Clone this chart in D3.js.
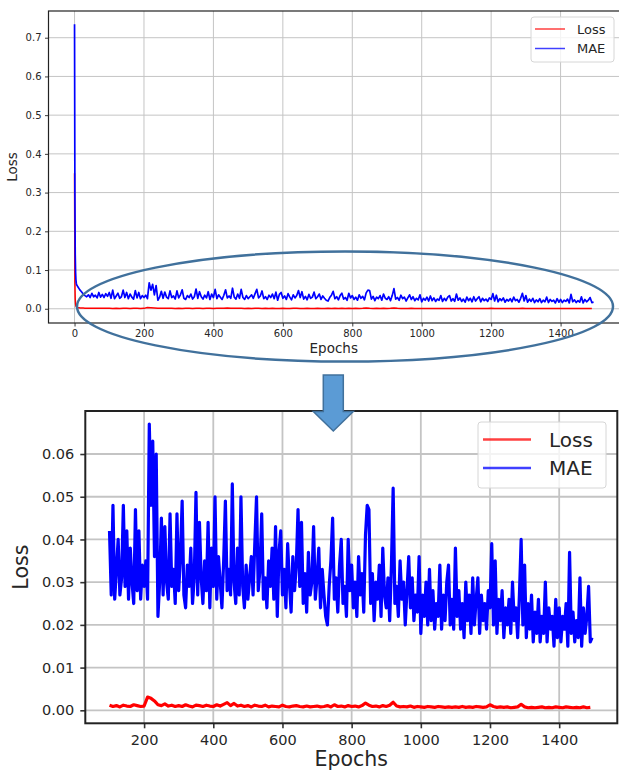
<!DOCTYPE html>
<html><head><meta charset="utf-8">
<script src="https://cdn.jsdelivr.net/npm/d3@7"></script>
<style>body{margin:0;background:#fff}svg{display:block;font-family:"DejaVu Sans",sans-serif}</style>
</head><body><svg id="c" width="619" height="771"></svg>
<script>
// ---------------- data ----------------
const seriesNames = ["Loss", "MAE"];
const seriesColors = ["#ff0000", "#0000ff"];

// first epochs (0..95), shown only in the upper (full) chart
const earlyEpochs = [0,1,2,3,4,5,6,8,10,13,16,20,25,30,35,40,45,50,55,60,65,70,75,80,85,90,95];
const earlyMae = [0.735,0.30,0.14,0.095,0.075,0.066,0.062,0.059,0.056,0.052,0.048,0.044,0.038,0.034,0.031,0.036,0.029,0.040,0.031,0.035,0.028,0.042,0.030,0.037,0.029,0.039,0.032];
const earlyLoss = [0.35,0.07,0.025,0.012,0.007,0.005,0.004,0.003,0.0028,0.0025,0.0022,0.002,0.0018,0.0016,0.0015,0.0014,0.0015,0.0013,0.0014,0.0012,0.0013,0.0012,0.0014,0.0011,0.0013,0.0012,0.0011];

// epochs 100..1495, every 5 epochs
const maeStart = 100, maeStep = 5;
const mae = [
  0.042,0.027,0.048,0.026,0.033,0.040,0.027,0.031,0.048,0.029,
  0.042,0.026,0.038,0.030,0.025,0.047,0.028,0.042,0.026,0.034,
  0.029,0.035,0.026,0.067,0.048,0.063,0.036,0.060,0.022,0.030,
  0.045,0.027,0.043,0.030,0.026,0.046,0.029,0.033,0.025,0.046,
  0.028,0.036,0.049,0.027,0.024,0.034,0.029,0.038,0.025,0.031,
  0.051,0.027,0.044,0.031,0.025,0.035,0.028,0.044,0.024,0.038,
  0.029,0.050,0.026,0.036,0.030,0.024,0.035,0.049,0.028,0.033,
  0.027,0.053,0.030,0.025,0.038,0.027,0.050,0.029,0.024,0.034,
  0.026,0.031,0.036,0.027,0.039,0.050,0.028,0.033,0.046,0.026,
  0.031,0.024,0.035,0.029,0.038,0.026,0.043,0.022,0.037,0.042,
  0.027,0.033,0.024,0.039,0.030,0.023,0.036,0.028,0.034,0.047,
  0.029,0.044,0.025,0.032,0.023,0.037,0.027,0.030,0.043,0.026,
  0.031,0.038,0.024,0.033,0.027,0.022,0.020,0.029,0.035,0.045,
  0.026,0.031,0.023,0.034,0.040,0.025,0.029,0.022,0.040,0.028,
  0.034,0.024,0.030,0.022,0.036,0.027,0.032,0.023,0.041,0.048,
  0.047,0.025,0.032,0.021,0.030,0.026,0.034,0.022,0.038,0.027,
  0.024,0.031,0.021,0.034,0.052,0.025,0.029,0.022,0.035,0.026,
  0.030,0.020,0.028,0.036,0.024,0.031,0.021,0.027,0.023,0.036,
  0.018,0.027,0.022,0.030,0.020,0.033,0.021,0.028,0.019,0.025,
  0.022,0.034,0.019,0.027,0.021,0.030,0.034,0.020,0.026,0.019,
  0.038,0.022,0.028,0.019,0.025,0.017,0.030,0.021,0.027,0.018,
  0.031,0.020,0.026,0.031,0.018,0.027,0.021,0.025,0.019,0.028,
  0.024,0.039,0.020,0.035,0.018,0.026,0.021,0.028,0.017,0.024,
  0.020,0.026,0.018,0.030,0.021,0.024,0.017,0.027,0.040,0.020,
  0.034,0.017,0.025,0.019,0.027,0.016,0.023,0.018,0.026,0.016,
  0.022,0.018,0.030,0.016,0.024,0.019,0.022,0.015,0.026,0.017,
  0.024,0.016,0.022,0.019,0.025,0.015,0.037,0.018,0.023,0.016,
  0.021,0.017,0.031,0.015,0.024,0.018,0.022,0.029,0.016,0.017
];

// epochs 100..1490, every 10 epochs
const lossStart = 100, lossStep = 10;
const loss = [
  0.0012,0.0009,0.0011,0.0008,0.0012,0.0010,0.0009,0.0013,0.0011,0.0009,
  0.0010,0.0031,0.0028,0.0022,0.0013,0.0011,0.0015,0.0010,0.0012,0.0009,
  0.0011,0.0009,0.0013,0.0010,0.0008,0.0012,0.0011,0.0009,0.0012,0.0010,
  0.0009,0.0013,0.0010,0.0014,0.0018,0.0011,0.0016,0.0010,0.0012,0.0009,
  0.0011,0.0008,0.0012,0.0010,0.0009,0.0012,0.0008,0.0010,0.0009,0.0008,
  0.0012,0.0009,0.0008,0.0010,0.0011,0.0009,0.0008,0.0010,0.0008,0.0009,
  0.0010,0.0008,0.0009,0.0011,0.0008,0.0013,0.0009,0.0010,0.0008,0.0011,
  0.0009,0.0010,0.0008,0.0011,0.0017,0.0012,0.0009,0.0010,0.0008,0.0011,
  0.0009,0.0012,0.0019,0.0010,0.0008,0.0009,0.0008,0.0010,0.0007,0.0009,
  0.0008,0.0007,0.0009,0.0008,0.0007,0.0009,0.0008,0.0007,0.0008,0.0007,
  0.0008,0.0007,0.0009,0.0007,0.0008,0.0007,0.0009,0.0008,0.0007,0.0008,
  0.0013,0.0009,0.0007,0.0008,0.0007,0.0008,0.0006,0.0007,0.0008,0.0014,
  0.0008,0.0006,0.0007,0.0006,0.0007,0.0008,0.0006,0.0007,0.0006,0.0008,
  0.0007,0.0006,0.0008,0.0007,0.0006,0.0007,0.0006,0.0008,0.0006,0.0007
];

const topXTicks = [0,200,400,600,800,1000,1200,1400];
const topYTicks = [0.0,0.1,0.2,0.3,0.4,0.5,0.6,0.7];
const botXTicks = [200,400,600,800,1000,1200,1400];
const botYTicks = [0.00,0.01,0.02,0.03,0.04,0.05,0.06];

// ---------------- build point lists ----------------
const maeMain = mae.map((v, i) => [maeStart + i * maeStep, v]);
const lossMain = loss.map((v, i) => [lossStart + i * lossStep, v]);
const maeFull = earlyEpochs.map((e, i) => [e, earlyMae[i]]).concat(maeMain);
const lossFull = earlyEpochs.map((e, i) => [e, earlyLoss[i]]).concat(lossMain);

const svg = d3.select('#c');
const defs = svg.append('defs');

function panel(cfg) {
  const g = svg.append('g');
  const x = d3.scaleLinear().domain(cfg.xDomain).range([cfg.left, cfg.right]);
  const y = d3.scaleLinear().domain(cfg.yDomain).range([cfg.bottom, cfg.top]);
  const w = cfg.right - cfg.left, h = cfg.bottom - cfg.top;
  defs.append('clipPath').attr('id', cfg.id).append('rect')
    .attr('x', cfg.left).attr('y', cfg.top).attr('width', w).attr('height', h);

  // grid
  g.append('g').selectAll('line').data(cfg.xTicks).join('line')
    .attr('x1', d => x(d)).attr('x2', d => x(d)).attr('y1', cfg.top).attr('y2', cfg.bottom)
    .attr('stroke', '#c4c4c4').attr('stroke-width', cfg.gridW);
  g.append('g').selectAll('line').data(cfg.yTicks).join('line')
    .attr('y1', d => y(d)).attr('y2', d => y(d)).attr('x1', cfg.left).attr('x2', cfg.right)
    .attr('stroke', '#c4c4c4').attr('stroke-width', cfg.gridW);

  // series
  const line = d3.line().x(d => x(d[0])).y(d => y(d[1]));
  const lg = g.append('g').attr('clip-path', `url(#${cfg.id})`);
  lg.append('path').datum(cfg.loss).attr('d', line).attr('fill', 'none')
    .attr('stroke', seriesColors[0]).attr('stroke-width', cfg.lossW).attr('stroke-linejoin', 'round');
  lg.append('path').datum(cfg.mae).attr('d', line).attr('fill', 'none')
    .attr('stroke', seriesColors[1]).attr('stroke-width', cfg.lineW).attr('stroke-linejoin', 'round');

  // axes
  const ax = g.append('g').attr('transform', `translate(0,${cfg.bottom})`)
    .call(d3.axisBottom(x).tickValues(cfg.xTicks).tickFormat(d3.format('d'))
      .tickSize(cfg.tickLen).tickPadding(cfg.tickPad));
  const ay = g.append('g').attr('transform', `translate(${cfg.left},0)`)
    .call(d3.axisLeft(y).tickValues(cfg.yTicks).tickFormat(d3.format(cfg.yFmt))
      .tickSize(cfg.tickLen).tickPadding(cfg.tickPad));
  [ax, ay].forEach(a => {
    a.select('.domain').remove();
    a.selectAll('.tick line').attr('stroke', '#333').attr('stroke-width', cfg.frameW * 0.8);
    a.selectAll('.tick text').attr('fill', '#262626').style('font-size', cfg.tickFont + 'px')
      .style('font-family', '"DejaVu Sans", sans-serif');
  });

  // frame
  g.append('rect').attr('x', cfg.left).attr('y', cfg.top).attr('width', w).attr('height', h)
    .attr('fill', 'none').attr('stroke', '#222').attr('stroke-width', cfg.frameW);

  // axis titles
  g.append('text').attr('x', (cfg.left + Math.min(cfg.right, 619)) / 2 + cfg.xlabDx).attr('y', cfg.xlabY)
    .attr('text-anchor', 'middle').attr('fill', '#262626').style('font-size', cfg.labFont + 'px').text('Epochs');
  g.append('text').attr('transform', `translate(${cfg.ylabX},${(cfg.top + cfg.bottom) / 2}) rotate(-90)`)
    .attr('text-anchor', 'middle').attr('fill', '#262626').style('font-size', cfg.labFont + 'px').text('Loss');

  // legend
  const L = cfg.legend;
  const lgd = g.append('g');
  lgd.append('rect').attr('x', L.x).attr('y', L.y).attr('width', L.w).attr('height', L.h).attr('rx', 3)
    .attr('fill', '#fff').attr('fill-opacity', 0.8).attr('stroke', '#d6d6d6').attr('stroke-width', 1);
  seriesNames.forEach((n, i) => {
    const yy = L.y + L.row0 + i * L.rowH;
    lgd.append('line').attr('x1', L.x + L.lx0).attr('x2', L.x + L.lx1).attr('y1', yy).attr('y2', yy)
      .attr('stroke', seriesColors[i]).attr('stroke-opacity', 0.75).attr('stroke-width', L.lw);
    lgd.append('text').attr('x', L.x + L.tx).attr('y', yy).attr('dy', '0.36em')
      .attr('fill', '#262626').style('font-size', L.font + 'px').text(n);
  });
}

// upper chart (full training run)
panel({
  id: 'clipTop', left: 48.5, right: 621, top: 11, bottom: 323,
  xDomain: [-75, 1574], yDomain: [-0.0368, 0.769],
  xTicks: topXTicks, yTicks: topYTicks, yFmt: '.1f',
  mae: maeFull, loss: lossFull, lineW: 1.7, lossW: 1.5, gridW: 1, frameW: 1.2,
  tickLen: 3.5, tickPad: 3.5, tickFont: 10, labFont: 13.5,
  xlabY: 353, xlabDx: 0, ylabX: 17,
  legend: { x: 531, y: 17, w: 83, h: 45, row0: 12, rowH: 19.5, lx0: 4, lx1: 34, tx: 46, lw: 1.5, font: 13 }
});

// lower chart (zoom, epochs >= 100)
panel({
  id: 'clipBot', left: 85.3, right: 617.3, top: 411, bottom: 723.3,
  xDomain: [30, 1568], yDomain: [-0.00304, 0.07007],
  xTicks: botXTicks, yTicks: botYTicks, yFmt: '.2f',
  mae: maeMain, loss: lossMain, lineW: 3.2, lossW: 3.2, gridW: 1.8, frameW: 2,
  tickLen: 5, tickPad: 6, tickFont: 14.5, labFont: 20.5,
  xlabY: 765.5, xlabDx: 0, ylabX: 28,
  legend: { x: 478, y: 422, w: 128, h: 66, row0: 17.5, rowH: 28.5, lx0: 5, lx1: 53, tx: 71, lw: 2.6, font: 20 }
});

// annotation: ellipse around the low region of the upper chart
svg.append('ellipse').attr('cx', 345).attr('cy', 306.5).attr('rx', 268).attr('ry', 55)
  .attr('fill', 'none').attr('stroke', '#41719c').attr('stroke-width', 2.5);

// block arrow pointing down to the zoomed chart
const arrow = d3.path();
arrow.moveTo(323.3, 375); arrow.lineTo(343.3, 375); arrow.lineTo(343.3, 411.5);
arrow.lineTo(353.3, 411.5); arrow.lineTo(333.3, 431); arrow.lineTo(313.3, 411.5);
arrow.lineTo(323.3, 411.5); arrow.closePath();
svg.append('path').attr('d', arrow.toString()).attr('fill', '#5b9bd5')
  .attr('stroke', '#41719c').attr('stroke-width', 1.5).attr('stroke-linejoin', 'miter');
</script>
</body></html>
